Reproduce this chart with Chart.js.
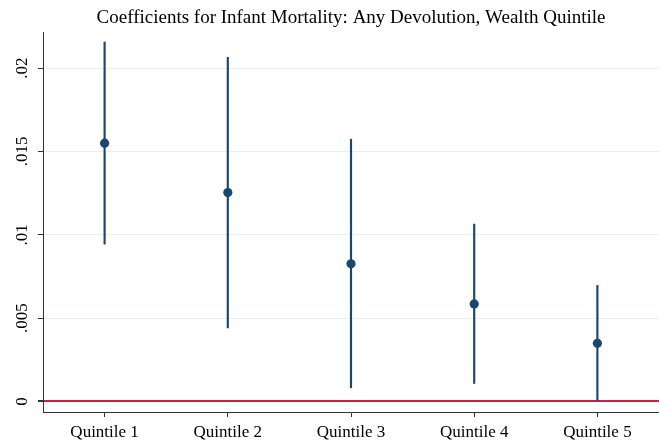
<!DOCTYPE html>
<html>
<head>
<meta charset="utf-8">
<script src="https://cdn.jsdelivr.net/npm/chart.js@4/dist/chart.umd.min.js"></script>
<style>
html,body{margin:0;padding:0;background:#fff;}
#wrap{width:659px;height:443px;}
</style>
</head>
<body>
<div id="wrap"><canvas id="c" width="659" height="443"></canvas></div>
<script>
const categories = ["Quintile 1","Quintile 2","Quintile 3","Quintile 4","Quintile 5"];
const coef  = [0.01549, 0.01253, 0.00826, 0.00585, 0.00349];
const lower = [0.00944, 0.00441, 0.00082, 0.00108, 0.00000];
const upper = [0.02156, 0.02064, 0.01573, 0.01064, 0.00696];
const yTicks = [0, 0.005, 0.01, 0.015, 0.02];
const yTickLabels = ["0", ".005", ".01", ".015", ".02"];
const titleText = "Coefficients for Infant Mortality: Any Devolution, Wealth Quintile";

const navy = "#1a476f";
const red = "#cf1d48";
const serif = "'Liberation Serif', 'Times New Roman', serif";

const ranges = lower.map((l, i) => [l, upper[i]]);

new Chart(document.getElementById("c"), {
  type: "bar",
  data: {
    labels: categories,
    datasets: [
      {
        type: "scatter",
        data: coef.map((v, i) => ({x: categories[i], y: v})),
        backgroundColor: navy,
        borderColor: navy,
        pointRadius: 4.6,
        pointBorderWidth: 0,
        showLine: false,
        order: 0
      },
      {
        type: "bar",
        data: ranges,
        backgroundColor: navy,
        borderWidth: 0,
        barThickness: 1.5,
        grouped: false,
        order: 1
      }
    ]
  },
  options: {
    responsive: false,
    animation: false,
    devicePixelRatio: 1,
    layout: {autoPadding: false, padding: {top: 0, left: 0, right: 0, bottom: 0}},
    plugins: {
      legend: {display: false},
      tooltip: {enabled: false},
      title: {
        display: true,
        text: titleText,
        fullSize: false,
        color: "#000",
        font: {family: serif, size: 19, weight: "normal"},
        padding: {top: 7, bottom: 2.2}
      }
    },
    scales: {
      x: {
        type: "category",
        offset: true,
        grid: {display: true, drawOnChartArea: false, drawTicks: true, tickLength: 5, tickColor: "#333", offset: false},
        border: {display: true, color: "#333", width: 1},
        ticks: {color: "#000", font: {family: serif, size: 17}, padding: 5, maxRotation: 0, minRotation: 0},
        afterFit: s => { s.height = 31; }
      },
      y: {
        type: "linear",
        min: -0.00063,
        max: 0.02216,
        afterBuildTicks: s => { s.ticks = yTicks.map(v => ({value: v})); },
        grid: {
          drawTicks: true, tickLength: 5, tickColor: "#333",
          color: c => (c.tick && c.tick.value === 0) ? red : "#e7eff2",
          lineWidth: c => (c.tick && c.tick.value === 0) ? 2 : 1
        },
        border: {display: true, color: "#333", width: 1},
        ticks: {
          color: "#000", font: {family: serif, size: 17}, padding: 1,
          crossAlign: "center",
          minRotation: 90, maxRotation: 90,
          callback: (v) => { const i = yTicks.indexOf(v); return i >= 0 ? yTickLabels[i] : ""; }
        },
        afterFit: s => { s.width = 43; }
      }
    }
  }
});
</script>
</body>
</html>
